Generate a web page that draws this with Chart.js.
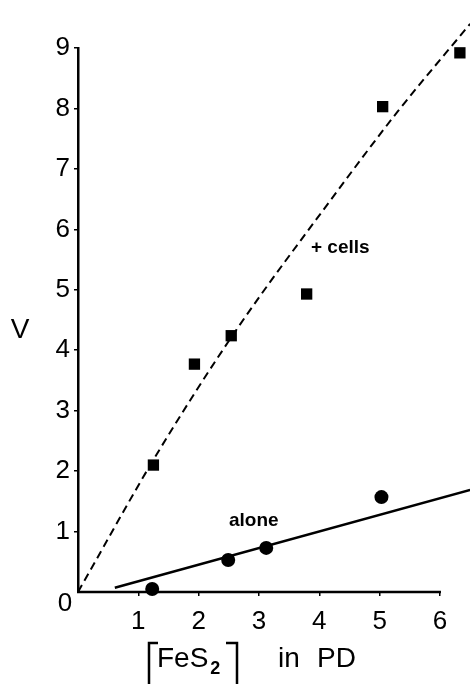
<!DOCTYPE html>
<html>
<head>
<meta charset="utf-8">
<script src="https://cdn.jsdelivr.net/npm/chart.js@4/dist/chart.umd.min.js"></script>
<style>
  html, body { margin: 0; background: #fff; overflow: hidden; }
  #wrap { width: 470px; height: 684px; position: relative; }
</style>
</head>
<body>
<div id="wrap"><canvas id="myChart"></canvas></div>
<script>
'use strict';

// data
const cellsX = [1.25, 1.93, 2.54, 3.79, 5.05, 6.33];
const cellsY = [2.1, 3.77, 4.24, 4.93, 8.03, 8.92];
const aloneX = [1.23, 2.49, 3.12, 5.03];
const aloneY = [0.05, 0.53, 0.73, 1.57];
// dashed curve through the +cells points
const cellsFitX = [0, 1.3, 2.6, 4.2, 5.3, 6.5];
const cellsFitY = [0, 2.27, 4.3, 6.5, 7.95, 9.4];
// straight line for alone
const aloneFitX = [0.61, 6.5];
const aloneFitY = [0.07, 1.69];
const xTicks = [1, 2, 3, 4, 5, 6];
const yTicks = [1, 2, 3, 4, 5, 6, 7, 8, 9];
const xAxisEnd = 6;

const FONT = '"Liberation Sans", Arial, sans-serif';

function toPoints(xs, ys) {
  let pts = [];
  for (let i = 0; i < xs.length; i++) {
    pts.push({ x: xs[i], y: ys[i] });
  }
  return pts;
}

//x axis line only runs to 6, the plot itself goes a bit further
const axisPlugin = {
  id: 'xAxisLine',
  beforeDatasetsDraw(chart) {
    const ctx = chart.ctx;
    const xs = chart.scales.x;
    const ys = chart.scales.y;
    ctx.save();
    ctx.strokeStyle = '#000';
    ctx.lineWidth = 2.5;
    ctx.beginPath();
    ctx.moveTo(xs.getPixelForValue(0) - 1, ys.getPixelForValue(0));
    ctx.lineTo(xs.getPixelForValue(xAxisEnd) + 1, ys.getPixelForValue(0));
    ctx.stroke();
    ctx.restore();
  }
};

//titles and labels drawn on top
const titlePlugin = {
  id: 'titles',
  afterDraw(chart) {
    const ctx = chart.ctx;
    const area = chart.chartArea;
    const yScale = chart.scales.y;
    ctx.save();
    ctx.fillStyle = '#000';
    ctx.strokeStyle = '#000';

    // y axis title
    ctx.font = '28px ' + FONT;
    ctx.textAlign = 'center';
    ctx.textBaseline = 'middle';
    ctx.fillText('V', 20, 330);

    // the 0 sits in the corner, below the axis
    ctx.font = '26px ' + FONT;
    ctx.fillText('0', area.left - 13, yScale.getPixelForValue(0) + 12);

    // curve labels
    ctx.font = 'bold 19px ' + FONT;
    ctx.textAlign = 'left';
    ctx.textBaseline = 'alphabetic';
    ctx.fillText('+ cells', 311, 253);
    ctx.fillText('alone', 229, 526);

    // x axis title  [FeS2] in PD
    ctx.font = '28px ' + FONT;
    ctx.fillText('FeS', 157, 667);
    let w = ctx.measureText('FeS').width;
    ctx.font = 'bold 18px ' + FONT;
    ctx.fillText('2', 157 + w + 2, 674);
    ctx.font = '28px ' + FONT;
    ctx.fillText('in', 278, 667);
    ctx.fillText('PD', 317, 667);

    ctx.lineWidth = 2.5;
    ctx.beginPath();
    ctx.moveTo(158, 643);
    ctx.lineTo(149, 643);
    ctx.lineTo(149, 684);
    ctx.moveTo(226, 643);
    ctx.lineTo(237, 643);
    ctx.lineTo(237, 684);
    ctx.stroke();
    ctx.restore();
  }
};

const config = {
  type: 'scatter',
  data: {
    datasets: [
      {
        label: '+cells points',
        data: toPoints(cellsX, cellsY),
        pointStyle: 'rect',
        pointRadius: 8,
        backgroundColor: '#000',
        borderColor: '#000',
        borderWidth: 0,
        clip: false,
        order: 0
      },
      {
        label: 'alone points',
        data: toPoints(aloneX, aloneY),
        pointStyle: 'circle',
        pointRadius: 7,
        backgroundColor: '#000',
        borderColor: '#000',
        borderWidth: 0,
        clip: false,
        order: 0
      },
      {
        label: '+cells fit',
        data: toPoints(cellsFitX, cellsFitY),
        showLine: true,
        pointRadius: 0,
        borderColor: '#000',
        borderWidth: 2,
        borderDash: [8, 5],
        cubicInterpolationMode: 'monotone',
        clip: false,
        order: 1
      },
      {
        label: 'alone fit',
        data: toPoints(aloneFitX, aloneFitY),
        showLine: true,
        pointRadius: 0,
        borderColor: '#000',
        borderWidth: 2.5,
        clip: false,
        order: 1
      }
    ]
  },
  options: {
    responsive: true,
    maintainAspectRatio: false,
    animation: false,
    layout: { padding: { top: 48, right: 0, left: 0, bottom: 0 } },
    plugins: {
      legend: { display: false },
      tooltip: { enabled: false }
    },
    scales: {
      x: {
        type: 'linear',
        min: 0,
        max: 6.365,
        afterFit: (scale) => {
          scale.height = 92;
          scale.paddingLeft = 0;
          scale.paddingRight = 0;
        },
        afterBuildTicks: (scale) => { scale.ticks = xTicks.map(v => ({ value: v })); },
        border: { display: false },
        grid: { drawOnChartArea: false, drawTicks: true, tickLength: 4, color: '#000', lineWidth: 1.5 },
        ticks: {
          color: '#000',
          font: { family: FONT, size: 26 },
          padding: 10,
          maxRotation: 0,
          callback: (v) => String(v)
        }
      },
      y: {
        type: 'linear',
        min: 0,
        max: 9,
        afterFit: (scale) => { scale.width = 78; },
        afterBuildTicks: (scale) => { scale.ticks = yTicks.map(v => ({ value: v })); },
        border: { display: true, color: '#000', width: 2.5 },
        grid: { drawOnChartArea: false, drawTicks: true, tickLength: 4, color: '#000', lineWidth: 1.5 },
        ticks: {
          color: '#000',
          font: { family: FONT, size: 26 },
          padding: 4,
          callback: (v) => String(v)
        }
      }
    }
  },
  plugins: [axisPlugin, titlePlugin]
};

const myChart = new Chart(document.getElementById('myChart'), config);
</script>
</body>
</html>
